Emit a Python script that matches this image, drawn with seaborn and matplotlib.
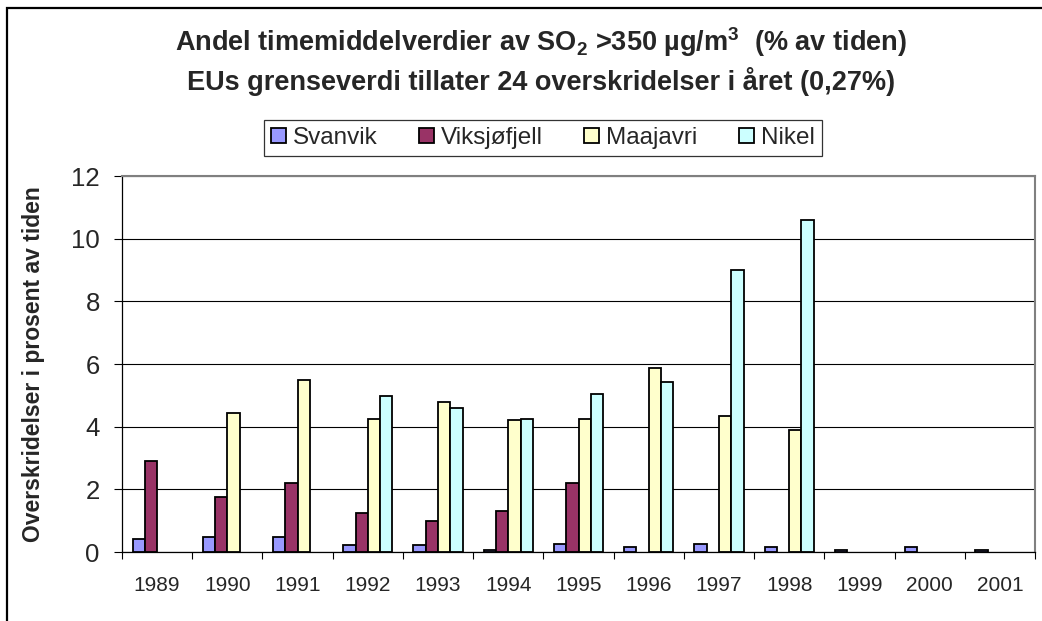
import numpy as np
import pandas as pd
import matplotlib
matplotlib.use("Agg")
import matplotlib.pyplot as plt
import matplotlib.ticker as mticker
from matplotlib.patches import Rectangle
import seaborn as sns

# data
years = ["1989", "1990", "1991", "1992", "1993", "1994", "1995",
         "1996", "1997", "1998", "1999", "2000", "2001"]
stations = ["Svanvik", "Viksjøfjell", "Maajavri", "Nikel"]
svanvik = [0.40, 0.47, 0.47, 0.22, 0.22, 0.07, 0.27, 0.15, 0.27, 0.15, 0.05, 0.15, 0.05]
viksjofjell = [2.92, 1.75, 2.20, 1.24, 0.98, 1.30, 2.20,
               np.nan, np.nan, np.nan, np.nan, np.nan, np.nan]
maajavri = [np.nan, 4.45, 5.48, 4.26, 4.78, 4.20, 4.26, 5.87, 4.33, 3.88,
            np.nan, np.nan, np.nan]
nikel = [np.nan, np.nan, np.nan, 4.98, 4.58, 4.26, 5.04, 5.42, 9.00, 10.60,
         np.nan, np.nan, np.nan]
colors = ["#9999FF", "#993366", "#FFFFCC", "#CCFFFF"]

#long table for seaborn
df = pd.DataFrame({"Year": years * 4,
                   "Station": np.repeat(stations, len(years)),
                   "Value": svanvik + viksjofjell + maajavri + nikel})

sns.set_theme(style="white")
plt.rcParams["font.family"] = ["Liberation Sans", "DejaVu Sans"]
plt.rcParams["mathtext.fontset"] = "custom"
plt.rcParams["mathtext.rm"] = "Liberation Sans:bold"
plt.rcParams["mathtext.default"] = "rm"

fig = plt.figure(figsize=(10.42, 6.21), dpi=100)
ax = fig.add_axes([122/1042, 1-552/621, (1035-122)/1042, (552-176)/621])

sns.barplot(data=df, x="Year", y="Value", hue="Station", hue_order=stations,
            order=years, palette=colors, width=0.7, gap=0, saturation=1,
            edgecolor="black", linewidth=1.3, errorbar=None, ax=ax, zorder=3)

ax.set_ylim(0, 12)
ax.set_xlim(-0.5, len(years) - 0.5)
ax.set_yticks(np.arange(0, 13, 2))
ax.yaxis.grid(True, color="black", linewidth=0.8)
ax.set_axisbelow(True)

# tick marks between the categories, labels in the middle
ax.xaxis.set_minor_locator(mticker.FixedLocator(np.arange(-0.5, len(years), 1)))
ax.tick_params(axis="x", which="major", length=0, pad=17, labelsize=15)
ax.tick_params(axis="x", which="minor", bottom=True, length=5, width=0.8, color="black")
ax.tick_params(axis="y", left=True, length=6, width=0.8, color="black", pad=10, labelsize=18.5)

for s in ["top", "right"]:
    ax.spines[s].set_color("#808080")
    ax.spines[s].set_linewidth(1.5)
for s in ["left", "bottom"]:
    ax.spines[s].set_color("black")
    ax.spines[s].set_linewidth(0.9)

ax.set_xlabel("")
ax.set_ylabel("Overskridelser i prosent av tiden", fontsize=16.5, fontweight="bold")
ax.yaxis.set_label_coords(-0.084, 0.5)

# legend
handles, labels = ax.get_legend_handles_labels()
ax.legend(handles, labels, ncol=4, loc="center", bbox_to_anchor=(543/1042, 1-138/621),
          bbox_transform=fig.transFigure, frameon=True, fancybox=False, shadow=False,
          edgecolor="black", fontsize=17.5, handlelength=0.6, handleheight=0.6,
          handletextpad=0.3, columnspacing=1.7, borderpad=0.3)
ax.get_legend().get_frame().set_linewidth(0.9)

#titles
fig.text(541/1042, 1-42/621, r"Andel timemiddelverdier av SO$_2$ >350 µg/m$^3$  (% av tiden)",
         ha="center", va="center", fontsize=19.5, fontweight="bold")
fig.text(541/1042, 1-82/621, "EUs grenseverdi tillater 24 overskridelser i året (0,27%)",
         ha="center", va="center", fontsize=19.5, fontweight="bold")

# outer frame
fig.patches.append(Rectangle((7/1042, -0.05), 1.2, 1.05 - 8/621, transform=fig.transFigure,
                             fill=False, edgecolor="black", linewidth=1.6))

fig.savefig("out.png", dpi=100)
